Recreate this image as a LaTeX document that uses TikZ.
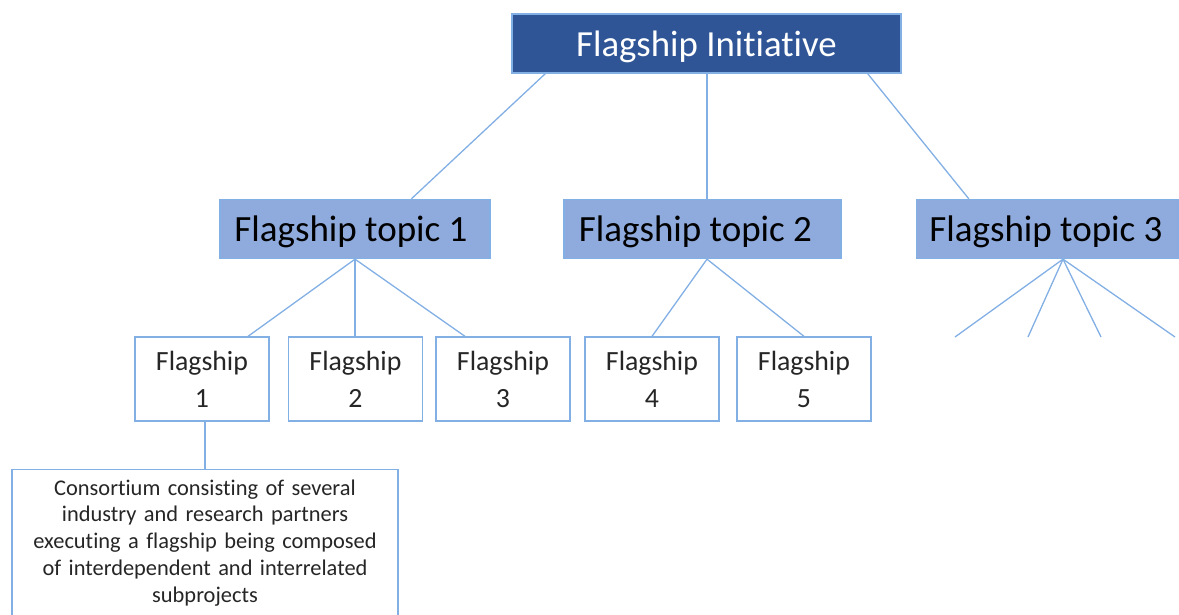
\documentclass[tikz,border=0pt]{standalone}
\usepackage{fontspec}
\setmainfont{Carlito}[Ligatures=NoCommon]
\definecolor{darkblue}{HTML}{2F5597}
\definecolor{midblue}{HTML}{8FAADC}
\definecolor{edgeblue}{RGB}{130,175,228}
\newcommand{\lowtext}[2][0pt]{\raisebox{-3pt}[\height][\depth]{#2}\kern#1}
\begin{document}
\begin{tikzpicture}[x=1pt,y=-1pt,
  box/.style={draw=edgeblue, line width=1.3pt, inner sep=0pt, align=center},
  topbox/.style={box, fill=darkblue, text=white, font=\fontsize{36.8}{44}\selectfont},
  topicbox/.style={box, fill=midblue, text=black, minimum height=59pt, font=\fontsize{37}{44}\selectfont},
  flagbox/.style={box, fill=white, text=black!85, minimum width=134pt, minimum height=84pt, font=\fontsize{27.8}{37}\selectfont},
  link/.style={draw=edgeblue, line width=1.3pt},
]
\useasboundingbox (0,0) rectangle (1179,614);

\node[topbox, minimum width=389pt, minimum height=59pt] (top) at (706.5,43.5) {\lowtext{Flagship Initiative}};

\node[topicbox, minimum width=270pt] (t1) at (355,229) {\lowtext[8pt]{Flagship topic 1}};
\node[topicbox, minimum width=277pt] (t2) at (702.5,229) {\lowtext[14pt]{Flagship topic 2}};
\node[topicbox, minimum width=262pt] (t3) at (1047.5,229) {\lowtext[3pt]{Flagship topic 3}};

\node[flagbox] (f1) at (202,379) {Flagship\\1};
\node[flagbox] (f2) at (355.5,379) {Flagship\\2};
\node[flagbox] (f3) at (503,379) {Flagship\\3};
\node[flagbox] (f4) at (652,379) {Flagship\\4};
\node[flagbox] (f5) at (804,379) {Flagship\\5};

\node[box, fill=white, text=black!85, anchor=north, minimum width=386pt, text width=370pt, inner ysep=10pt,
      font=\fontsize{22.4}{26.75}\selectfont] (cons) at (205,469)
  {Consortium consisting of several\\industry and research partners\\executing a flagship being composed\\of interdependent and interrelated\\subprojects};

\coordinate (e1) at (955,337);
\coordinate (e2) at (1028,337);
\coordinate (e3) at (1101,337);
\coordinate (e4) at (1175,337);

\draw[link] ([xshift=34pt]top.south west) -- ([xshift=192pt]t1.north west);
\draw[link] ([xshift=0.5pt]top.south) -- ([xshift=0.5pt]top.south |- t2.north);
\draw[link] ([xshift=-34pt]top.south east) -- ([xshift=53pt]t3.north west);

\draw[link] (t1.south) -- ([xshift=46pt]f1.north);
\draw[link] (t1.south) -- (t1.south |- f2.north);
\draw[link] (t1.south) -- ([xshift=-38pt]f3.north);

\draw[link] ([xshift=4.5pt]t2.south) -- (f4.north);
\draw[link] ([xshift=4.5pt]t2.south) -- (f5.north);

\draw[link] ([xshift=15.5pt]t3.south) -- (e1);
\draw[link] ([xshift=15.5pt]t3.south) -- (e2);
\draw[link] ([xshift=15.5pt]t3.south) -- (e3);
\draw[link] ([xshift=15.5pt]t3.south) -- (e4);

\draw[link] (cons.north |- f1.south) -- (cons.north);
\end{tikzpicture}
\end{document}
